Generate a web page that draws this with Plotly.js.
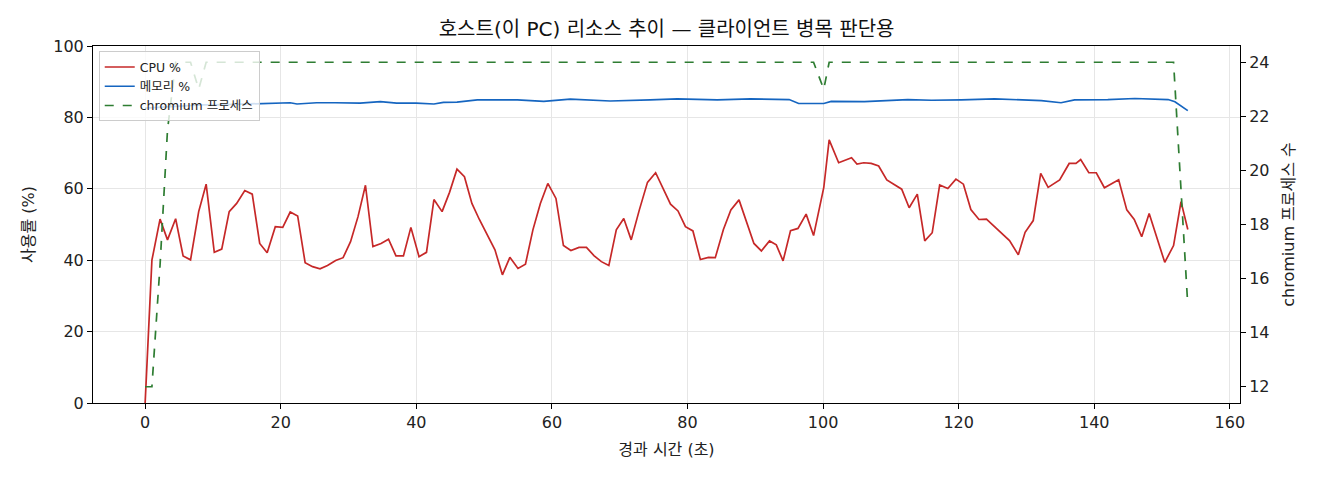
<!DOCTYPE html>
<html>
<head>
<meta charset="utf-8">
<script src="https://cdn.plot.ly/plotly-3.0.1.min.js"></script>
<style>
  html, body { margin: 0; padding: 0; background: #fff; }
  #chart { width: 1320px; height: 480px; }
</style>
</head>
<body>
<div id="chart"></div>
<script>
// CPU usage samples (seconds, %)
const cpuTime = [0, 1.0, 2.2, 3.3, 4.5, 5.6, 6.7, 7.9, 9.0, 10.2, 11.3, 12.4, 13.5, 14.7, 15.8, 16.9, 18.0, 19.2, 20.3,
  21.4, 22.5, 23.6, 24.7, 25.8, 26.9, 28.1, 29.2, 30.3, 31.4, 32.5, 33.6, 34.8, 35.9, 37.0, 38.1, 39.2, 40.4, 41.5,
  42.6, 43.8, 44.9, 46.0, 47.1, 48.2, 49.3, 50.5, 51.6, 52.7, 53.8, 55.0, 56.1, 57.2, 58.3, 59.4, 60.6, 61.7, 62.8,
  64.0, 65.1, 66.2, 67.3, 68.4, 69.5, 70.6, 71.7, 72.9, 74.1, 75.3, 76.4, 77.5, 78.6, 79.7, 80.8, 81.9, 83.1, 84.1,
  85.3, 86.4, 87.6, 88.7, 89.8, 90.9, 92.1, 93.1, 94.1, 95.2, 96.3, 97.5, 98.6, 100.1, 100.9, 102.3, 104.2, 105.0,
  106.0, 107.1, 108.2, 109.4, 110.4, 111.6, 112.7, 113.9, 115.0, 116.1, 117.2, 118.4, 119.6, 120.7, 121.8, 123.0,
  124.1, 125.2, 126.3, 127.5, 128.8, 129.8, 131.0, 132.1, 133.2, 134.9, 136.3, 137.3, 138.0, 139.2, 140.3, 141.5,
  143.6, 144.8, 145.9, 147.0, 148.1, 150.4, 151.7, 152.8, 153.8];
const cpuPct = [0, 40.0, 51.5, 45.7, 51.6, 41.2, 40.1, 53.6, 61.3, 42.2, 43.1, 53.6, 55.9, 59.5, 58.5, 44.7, 42.1, 49.4, 49.2,
  53.5, 52.4, 39.3, 38.2, 37.6, 38.5, 39.9, 40.7, 45.2, 52.2, 61.0, 43.8, 44.7, 45.9, 41.2, 41.2, 49.2, 41.0, 42.2,
  57.0, 53.6, 59.0, 65.5, 63.4, 55.9, 51.4, 47.1, 42.9, 35.9, 40.8, 37.7, 38.9, 48.5, 55.9, 61.5, 57.3, 44.1, 42.7,
  43.6, 43.6, 41.3, 39.6, 38.5, 48.5, 51.7, 45.7, 54.1, 61.8, 64.5, 60.1, 55.7, 53.8, 49.4, 48.2, 40.2, 40.8, 40.7,
  48.6, 54.1, 56.9, 50.8, 44.7, 42.6, 45.4, 44.3, 39.8, 48.3, 48.9, 52.9, 46.9, 60.3, 73.7, 67.3, 68.7, 66.9,
  67.3, 67.1, 66.4, 62.5, 61.3, 59.9, 54.7, 58.5, 45.4, 47.7, 61.1, 60.1, 62.7, 61.3, 54.2, 51.4,
  51.5, 49.6, 47.5, 45.5, 41.5, 47.8, 51.1, 64.3, 60.4, 62.5, 67.1, 67.1, 68.2, 64.5, 64.5, 60.3,
  62.5, 54.1, 51.4, 46.6, 53.1, 39.4, 44.1, 56.4, 48.6];

// memory usage samples (seconds, %)
const memTime = [0, 4.0, 8.4, 12.0, 16.7, 17.5, 21.4, 22.4, 25.3, 28.0, 31.7, 34.7, 37.1, 40.0, 42.6, 44.0, 46.0, 49.0,
  54.9, 58.8, 62.7, 68.6, 71.6, 74.5, 78.5, 84.4, 89.3, 93.0, 95.0, 96.4, 98.6, 100.1, 101.2, 106.1, 112.5, 116.0,
  120.4, 125.3, 132.2, 135.1, 137.1, 142.0, 146.0, 150.9, 151.9, 153.8];
const memPct = [82.6, 83.0, 83.5, 83.6, 83.9, 83.75, 84.1, 83.75, 84.1, 84.1, 84.0, 84.4, 84.0, 84.0, 83.75, 84.2, 84.3, 84.9,
  84.9, 84.5, 85.1, 84.6, 84.7, 84.9, 85.2, 84.9, 85.2, 85.0, 85.0, 83.9, 84.0, 83.9, 84.5, 84.4, 85.0, 84.8,
  84.9, 85.2, 84.7, 84.1, 84.9, 85.0, 85.3, 85.0, 84.4, 81.9];

// chromium process count (seconds, count)
const procTime = [0, 1.0, 2.2, 3.3, 4.5, 6.7, 7.9, 9.0, 98.6, 100.1, 100.9, 151.7, 153.8];
const procCount = [12, 12, 16.5, 21.5, 24, 24, 23, 24, 24, 23, 24, 24, 15];

const FONT = '"DejaVu Sans", "Noto Sans CJK KR", sans-serif';

const traces = [
  {
    x: cpuTime, y: cpuPct, name: 'CPU %', type: 'scatter', mode: 'lines',
    line: { color: '#c62828', width: 1.7 }, yaxis: 'y'
  },
  {
    x: memTime, y: memPct, name: '메모리 %', type: 'scatter', mode: 'lines',
    line: { color: '#1565c0', width: 1.7 }, yaxis: 'y'
  },
  {
    x: procTime, y: procCount, name: 'chromium 프로세스', type: 'scatter', mode: 'lines',
    line: { color: '#2e7d32', width: 1.7, dash: 'dash' }, yaxis: 'y2'
  }
];

const axisCommon = {
  showline: true, linecolor: '#000', linewidth: 1,
  ticks: 'outside', ticklen: 5, tickcolor: '#000', tickwidth: 1,
  tickfont: { family: FONT, size: 16, color: '#222' },
  zeroline: false, automargin: false
};

const layout = {
  width: 1320, height: 480,
  margin: { l: 93, r: 80, t: 46, b: 77 },
  paper_bgcolor: '#fff', plot_bgcolor: '#fff',
  font: { family: FONT, color: '#222' },
  title: {
    text: '호스트(이 PC) 리소스 추이 — 클라이언트 병목 판단용',
    font: { family: FONT, size: 20, color: '#111' },
    x: 0.505, xanchor: 'center', y: 0.94, yanchor: 'middle'
  },
  xaxis: Object.assign({}, axisCommon, {
    range: [-7.69, 161.5], tickvals: [0, 20, 40, 60, 80, 100, 120, 140, 160],
    mirror: true, showgrid: true, gridcolor: '#e6e6e6', gridwidth: 1,
    title: { text: '경과 시간 (초)', font: { family: FONT, size: 16 }, standoff: 12 }
  }),
  yaxis: Object.assign({}, axisCommon, {
    range: [0, 100], tickvals: [0, 20, 40, 60, 80, 100],
    showgrid: true, gridcolor: '#e6e6e6', gridwidth: 1,
    title: { text: '사용률 (%)', font: { family: FONT, size: 16 }, standoff: 14 }
  }),
  yaxis2: Object.assign({}, axisCommon, {
    range: [11.4, 24.6], tickvals: [12, 14, 16, 18, 20, 22, 24],
    overlaying: 'y', side: 'right', showgrid: false,
    title: { text: 'chromium 프로세스 수', font: { family: FONT, size: 16 }, standoff: 14 }
  }),
  legend: {
    x: 0.005, y: 0.985, xanchor: 'left', yanchor: 'top',
    bgcolor: 'rgba(255,255,255,0.8)', bordercolor: '#cccccc', borderwidth: 1,
    font: { family: FONT, size: 12.5, color: '#222' },
    itemwidth: 30, tracegroupgap: 0
  },
  showlegend: true
};

Plotly.newPlot('chart', traces, layout, { displayModeBar: false, staticPlot: true });
</script>
</body>
</html>
